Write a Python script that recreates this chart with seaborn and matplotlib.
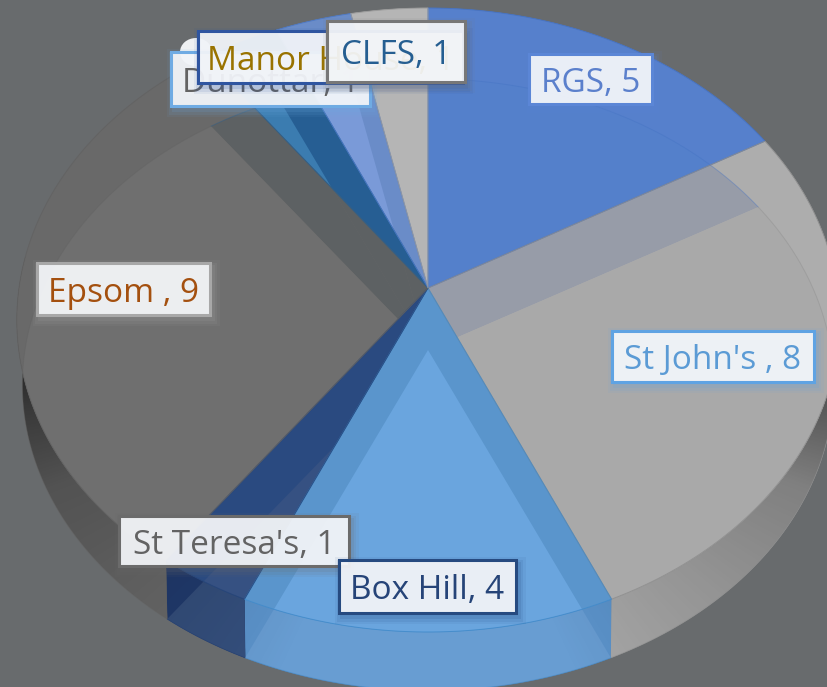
import numpy as np
import matplotlib
matplotlib.use("Agg")
import matplotlib.pyplot as plt
import seaborn as sns
from matplotlib.patches import Rectangle, Polygon, Ellipse

names = ["RGS", "St John's ", "Box Hill", "St Teresa's", "Epsom ", "Dunottar", "Manor House", "CLFS"]
values = [5, 8, 4, 1, 9, 1, 1, 1]
top_hex = ["#5680cc", "#adadad", "#5a95cc", "#2a4a80", "#696969", "#265e93", "#6a8cc8", "#b5b5b5"]
both_hex = ["#5480cb", "#a9a9a9", "#6aa5de", "#365182", "#6f6f6f", "#3b7cb0", "#7a9ad8", "#b5b5b5"]
wall_hex = ["#5480cb", "#a6a6a6", "#5c94cc", "#223c70", "#6a6a6a", "#255e91", "#7a9ad8", "#b5b5b5"]
wall_both_hex = ["#5480cb", "#a8a8a8", "#689dd2", "#35507e", "#6c6c6c", "#255e91", "#7a9ad8", "#b5b5b5"]
edge_hex = ["#4472c4", "#8c8c8c", "#3f8acb", "#264478", "#626262", "#255e91", "#4a78c8", "#9a9a9a"]
border_hex = ["#5b86d6", "#5fa3e3", "#264a80", "#6b6b6b", "#a8a8a8", "#6fabe3", "#2f55a0", "#777777"]
text_hex = ["#5b80cc", "#5b9bd5", "#264478", "#636363", "#a4500f", "#636363", "#997300", "#255e91"]
# top slice, lower-copy slice beneath it, colour where they overlap
cross_top = [1, 2, 2, 3, 4, 4, 4, 5, 5, 6]
cross_low = [0, 1, 3, 4, 5, 6, 7, 6, 7, 7]
cross_hex = ["#979ca8", "#5a95cc", "#5a95cc", "#2a4a80", "#5d6163", "#5d6163", "#5d6163", "#265e93", "#265e93", "#6a8cc8"]
# label boxes: left, top, right, bottom in figure pixels
box_left = [529, 612, 339, 119, 37, 171, 198, 327]
box_top = [54, 331, 560, 516, 263, 52, 31, 21]
box_right = [652, 814, 516, 349, 210, 370, 463, 465]
box_bottom = [104, 382, 613, 566, 315, 106, 83, 82]
label_order = [0, 1, 4, 3, 2, 5, 6, 7]

BG = "#686b6d"
sns.set_theme(style="white")
plt.rcParams["font.family"] = ["Open Sans", "DejaVu Sans"]
top_cols = sns.color_palette(top_hex)
both_cols = sns.color_palette(both_hex)
wall_cols = sns.color_palette(wall_hex)
wall_both = sns.color_palette(wall_both_hex)
cross_cols = sns.color_palette(cross_hex)
edges = sns.color_palette(edge_hex)

fig = plt.figure(figsize=(8.28, 6.87), dpi=100, facecolor=BG)
ax = fig.add_axes([0, 0, 1, 1], facecolor=BG)


def project(theta_deg, face):
    t = np.radians(theta_deg)
    u, v = np.sin(t), np.cos(t)
    x0, y0, rx, ry, k = face
    d = 1 + k * v
    return x0 + rx * u / d, y0 - ry * v / d


TOP = (428, 288, 409, 308.7, 0.1026)
LOW = (428, 350, 403, 302, 0.1135)


def wedge(a, b, face):
    th = np.linspace(a, b, max(int(b - a) + 2, 3))
    x, y = project(th, face)
    return np.c_[np.r_[face[0], x], np.r_[face[1], y]]


def wall_poly(a, b):
    th = np.linspace(a, b, max(int(b - a) + 2, 3))
    xa, ya = project(th, TOP)
    xb, yb = project(th[::-1], LOW)
    return np.c_[np.r_[xa, xb], np.r_[ya, yb]]


def wall_light(th):
    d = abs(th - 180)
    return np.interp(d, [0, 24, 50, 70, 82, 90, 180], [1.0, 1.0, 0.88, 0.76, 0.52, 0.3, 0.3])


stops = np.r_[0, np.cumsum(values)] / np.sum(values) * 360
WALL_START, WALL_END = 84, 276

# side wall
for i in range(len(values)):
    a, b = max(stops[i], WALL_START), min(stops[i + 1], WALL_END)
    if b <= a:
        continue
    wp = Polygon(wall_poly(a, b), facecolor=wall_cols[i], edgecolor=wall_cols[i], lw=0.3, zorder=2)
    ax.add_patch(wp)
    inner = Polygon(wedge(stops[i], stops[i + 1], LOW), facecolor=wall_both[i], lw=0, zorder=2.1)
    ax.add_patch(inner)
    inner.set_clip_path(wp)

# smooth darkening of the wall towards the sides
gx, gy = np.meshgrid(np.arange(828) + 0.5, np.arange(687) + 0.5)
angle = np.degrees(np.arctan2(gx - LOW[0], -(gy - LOW[1]))) % 360
overlay = np.zeros((687, 828, 4))
overlay[..., 3] = 1 - wall_light(angle)
im = ax.imshow(overlay, extent=(0, 828, 687, 0), origin="upper", interpolation="bilinear", zorder=2.2, aspect="auto")
whole_wall = Polygon(wall_poly(WALL_START, WALL_END), transform=ax.transData, facecolor="none", lw=0)
ax.add_patch(whole_wall)
im.set_clip_path(whole_wall)

# top face and its overlaps with the lower copy
top_patches = []
for i in range(len(values)):
    tp = Polygon(wedge(stops[i], stops[i + 1], TOP), facecolor=top_cols[i], edgecolor=top_cols[i], lw=0.3, zorder=4)
    ax.add_patch(tp)
    top_patches.append(tp)
    overlap = Polygon(wedge(stops[i], stops[i + 1], LOW), facecolor=both_cols[i], lw=0, zorder=4.1)
    ax.add_patch(overlap)
    overlap.set_clip_path(tp)
for a, b, c in zip(cross_top, cross_low, cross_cols):
    cp = Polygon(wedge(stops[b], stops[b + 1], LOW), facecolor=c, lw=0, zorder=4.05)
    ax.add_patch(cp)
    cp.set_clip_path(top_patches[a])

# thin rims
for i in range(len(values)):
    pts = wedge(stops[i], stops[i + 1], LOW)
    ax.plot(pts[1:, 0], pts[1:, 1], color=edges[i], lw=0.7, alpha=0.4, zorder=4.5)
    pts = wedge(stops[i], stops[i + 1], TOP)
    ax.add_patch(Polygon(pts, facecolor="none", edgecolor=(*edges[i], 0.8), lw=0.7, zorder=4.6))

# pale fragment showing behind the crowded labels
ax.add_patch(Ellipse((196, 52), 32, 28, facecolor="#eef0f2", lw=0, zorder=5))

# labels
for n, i in enumerate(label_order):
    l, t, r, b = box_left[i], box_top[i], box_right[i], box_bottom[i]
    z = 10 + n
    for grow, al in zip([7, 4.5, 2], [0.07, 0.1, 0.14]):
        ax.add_patch(Rectangle((l + 3 - grow, t + 4 - grow), r - l + 2 * grow, b - t + 2 * grow,
                               facecolor=border_hex[i], alpha=al, lw=0, zorder=z))
    ax.add_patch(Rectangle((l, t), r - l, b - t, facecolor=(0.96, 0.97, 0.98, 0.93),
                           edgecolor=border_hex[i], lw=2.2, zorder=z + 0.1))
    ax.text((l + r) / 2, (t + b) / 2, f"{names[i]}, {values[i]}", color=text_hex[i], fontsize=24,
            ha="center", va="center_baseline", zorder=z + 0.2)

ax.set_xlim(0, 828)
ax.set_ylim(687, 0)
ax.axis("off")
fig.savefig("out.png", dpi=100, facecolor=BG)
